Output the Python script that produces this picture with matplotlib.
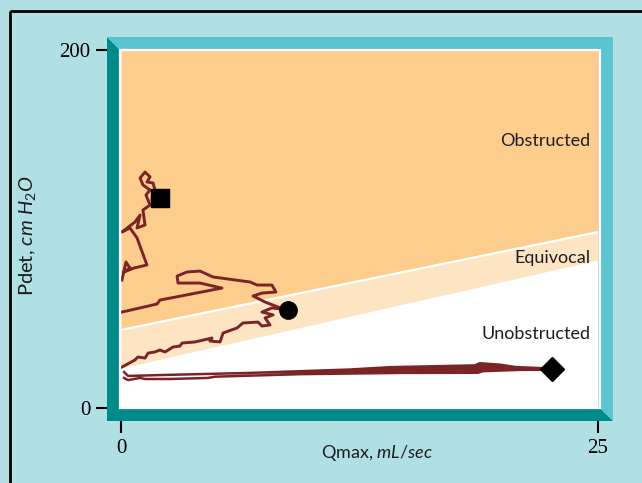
import numpy as np
import matplotlib.pyplot as plt
from matplotlib.patches import Polygon, Rectangle
plt.switch_backend("Agg")

plt.rcParams["font.family"] = ["Lato", "DejaVu Sans"]
plt.rcParams["mathtext.fontset"] = "custom"
plt.rcParams["mathtext.rm"] = "Lato"
plt.rcParams["mathtext.it"] = "Lato:italic"

# zone boundaries (Pdet at Qmax = 0 and Qmax = 25)
q_edges = [0, 25]
obstructed_line = [43.6, 98.3]
equivocal_line = [22.3, 82.7]

# patient 1 (square)
sq_q = [0.05, 0.26, 0.47, 0.16, 0.68, 1.36, 0.84, 0.47, 0.05, 0.73, 1.00, 0.84,
        1.26, 1.15, 1.52, 1.31, 1.52, 1.15, 1.00, 1.26, 1.52, 1.36, 1.68, 1.78,
        1.62, 1.83]
sq_p = [71.5, 81.6, 78.2, 76.0, 78.2, 79.9, 95.0, 100.6, 98.3, 103.9, 107.8, 100.6,
        102.2, 110.6, 113.4, 119.0, 121.8, 124.6, 128.5, 131.8, 129.1, 126.3, 125.7,
        121.8, 116.2, 113.4]
sq_mark = (2.04, 117.3)

# patient 2 (circle), two passes
c1_q = [0.05, 1.89, 2.04, 5.29, 4.14, 2.99, 2.94, 3.46, 4.14, 4.82, 6.76, 7.13,
        7.91, 8.12, 7.39, 6.92, 7.55, 8.23, 8.75]
c1_p = [53.6, 58.1, 60.3, 67.0, 69.8, 69.8, 73.7, 76.0, 76.5, 73.2, 70.4, 68.7,
        68.7, 64.8, 64.2, 62.6, 59.2, 56.4, 54.7]
c2_q = [0.05, 0.73, 0.89, 1.26, 1.42, 1.78, 2.04, 2.31, 2.73, 3.09, 3.20, 3.88,
        4.77, 4.66, 5.19, 5.35, 6.08, 6.39, 7.18, 7.39, 7.81, 7.55, 7.97, 7.39,
        7.91, 8.75]
c2_p = [22.9, 26.8, 28.5, 27.9, 30.7, 31.3, 32.4, 31.3, 34.1, 34.6, 36.3, 36.9,
        39.1, 37.4, 36.9, 41.9, 44.7, 47.5, 48.0, 45.8, 46.4, 50.3, 52.0, 53.6,
        55.9, 54.7]
circ_mark = (8.75, 54.7)

# patient 3 (diamond): outward and return pass
d_out_q = [0.16, 0.37, 2.04, 6.76, 12.0, 14.1, 18.55, 18.8, 19.86, 20.65, 22.59]
d_out_p = [20.1, 17.9, 18.4, 19.6, 21.5, 22.8, 23.8, 25.0, 24.2, 22.9, 22.0]
d_back_q = [22.59, 20.9, 18.97, 18.71, 14.62, 9.38, 4.93, 4.56, 2.57, 1.26, 1.0, 0.37, 0.16]
d_back_p = [21.4, 21.3, 20.6, 19.7, 19.6, 18.9, 17.5, 16.8, 16.2, 16.2, 16.8, 15.6, 16.8]
diam_mark = (22.59, 21.8)

zone_labels = ["Obstructed", "Equivocal", "Unobstructed"]
zone_label_p = [149.2, 83.8, 41.3]

BG = "#b0dfe4"
ORANGE = "#fdcd8e"
LIGHT = "#fde4c2"
TRACE = "#7b2427"
DARK_TEAL = "#008b8b"
LIGHT_TEAL = "#5ac5cf"

W, H = 642, 483
fig = plt.figure(figsize=(W / 100, H / 100), dpi=100, facecolor=BG)

ax = fig.add_axes([121 / W, (H - 408) / H, 477 / W, 358 / H])
ax.set_facecolor("white")
ax.set_xlim(0, 25)
ax.set_ylim(0, 200)
for s in ax.spines.values():
    s.set_visible(False)

ax.fill_between(q_edges, obstructed_line, 200, color=ORANGE, lw=0)
ax.fill_between(q_edges, equivocal_line, obstructed_line, color=LIGHT, lw=0)
ax.plot(q_edges, obstructed_line, color="white", lw=1.6)

for lab, p in zip(zone_labels, zone_label_p):
    ax.text(24.6, p, lab, ha="right", va="center", fontsize=13, color="#1e1e1e")

ax.plot(sq_q, sq_p, color=TRACE, lw=2.1)
ax.plot(c1_q, c1_p, color=TRACE, lw=2.1)
ax.plot(c2_q, c2_p, color=TRACE, lw=2.1)
ax.plot(d_out_q + d_back_q, d_out_p + d_back_p, color=TRACE, lw=1.8)
ax.fill(d_out_q[3:] + d_back_q[:6], d_out_p[3:] + d_back_p[:6], color=TRACE, lw=0)

ax.plot(*sq_mark, marker="s", ms=13, color="black", zorder=5)
ax.plot(*circ_mark, marker="o", ms=12.5, color="black", zorder=5)
ax.plot(*diam_mark, marker="D", ms=12.5, color="black", zorder=5)

ax.set_xticks([0, 25])
ax.set_yticks([0, 200])
ax.set_xticklabels(["0", "25"])
ax.set_yticklabels(["0", "200"])
ax.tick_params(length=18, width=1.5, color="black", pad=4)
for t in ax.get_xticklabels() + ax.get_yticklabels():
    t.set_fontfamily("Liberation Serif")
    t.set_fontsize(15)

# beveled frame drawn over the axes edge, in pixel coordinates
ov = fig.add_axes([0, 0, 1, 1], zorder=10)
ov.set_xlim(0, W)
ov.set_ylim(H, 0)
ov.axis("off")
ov.patch.set_alpha(0)
ov.add_patch(Polygon([(107, 37), (119, 49), (119, 409), (601, 409), (613, 421), (107, 421)],
                     closed=True, color=DARK_TEAL, lw=0))
ov.add_patch(Polygon([(107, 37), (613, 37), (613, 421), (601, 409), (601, 49), (119, 49)],
                     closed=True, color=LIGHT_TEAL, lw=0))
ov.add_patch(Rectangle((120, 50), 480, 358, fill=False, ec="white", lw=1.6))
ov.add_patch(Rectangle((9.5, 10.5), 700, 600, fill=False, ec="black", lw=2))

ov.text(377, 453, r"Qmax, $\mathit{mL/sec}$", ha="center", va="center", fontsize=13, color="#1e1e1e")
ov.text(28, 236, r"Pdet, $\mathit{cm\ H_2O}$", ha="center", va="center", rotation=90,
        fontsize=14.5, color="#1e1e1e")

fig.savefig("out.png", dpi=100, facecolor=BG)
